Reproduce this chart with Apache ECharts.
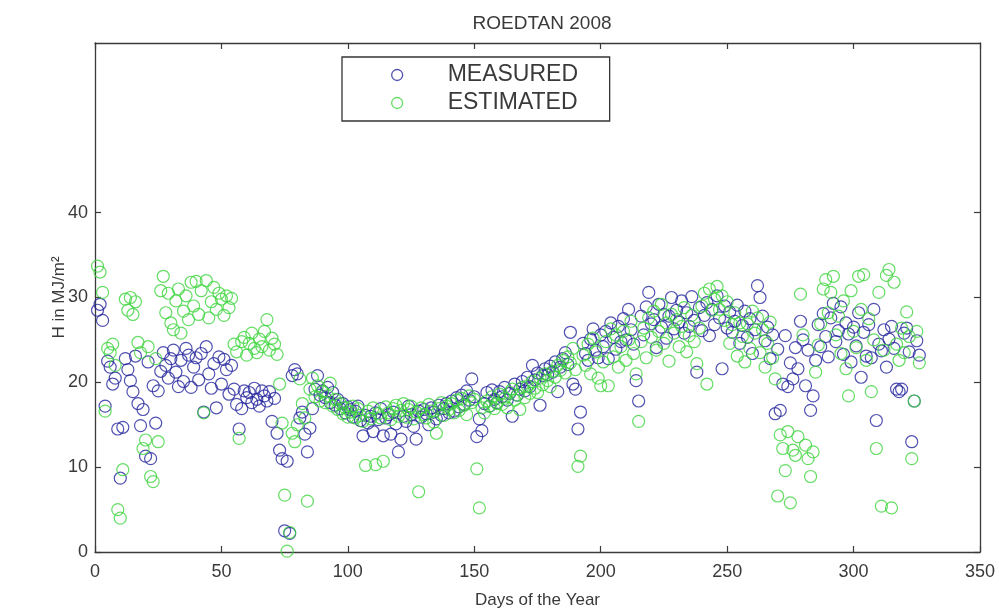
<!DOCTYPE html>
<html>
<head>
<meta charset="utf-8">
<script src="https://cdn.jsdelivr.net/npm/echarts@6/dist/echarts.min.js"></script>
<style>html,body{margin:0;padding:0;background:#fff;}#c{width:999px;height:614px;}</style>
</head>
<body>
<div id="c"></div>
<script>
const titleText = 'ROEDTAN 2008';
const xName = 'Days of the Year';
const yName = 'H in MJ/m²';
const seriesNames = ['MEASURED', 'ESTIMATED'];
const firstDay = 1;
const xTicks = [0, 50, 100, 150, 200, 250, 300, 350];
const yTicks = [0, 10, 20, 30, 40];

const measured = [
28.5, 29.2, 27.3, 17.2, 22.5, 21.8, 19.8, 20.5, 14.5, 8.7,
14.7, 22.8, 21.5, 20.2, 18.9, 23.1, 17.5, 14.9, 16.8, 11.3,
22.4, 11.0, 19.6, 15.2, 19.0, 21.3, 23.5, 22.0, 20.5, 22.8,
23.8, 21.2, 19.5, 22.6, 20.1, 24.0, 23.2, 19.4, 21.8, 22.9,
20.3, 23.4, 16.5, 24.2, 21.0, 19.3, 22.2, 17.0, 23.0, 19.8,
22.7, 21.5, 18.6, 22.0, 19.2, 17.4, 14.5, 16.9, 19.0, 18.2,
18.8, 17.6, 19.3, 18.0, 17.2, 19.0, 18.4, 17.8, 18.9, 15.4,
18.1, 14.0, 12.0, 11.0, 2.5, 10.7, 2.2, 20.8, 21.5, 21.0,
15.8, 16.5, 13.9, 11.8, 14.6, 16.9, 19.2, 20.8, 18.5, 19.0,
18.2, 19.4, 17.6, 18.8, 17.3, 18.0, 16.9, 17.5, 16.4, 17.1,
16.8, 15.9, 16.6, 17.2, 15.5, 13.7, 16.1, 15.2, 16.0, 14.2,
16.4, 15.6, 16.9, 13.7, 15.8, 16.2, 13.9, 16.5, 15.1, 11.8,
13.3, 16.0, 15.4, 17.2, 16.2, 14.8, 13.3, 16.6, 15.9, 16.8,
16.3, 15.0, 17.0, 16.5, 15.7, 17.3, 16.1, 16.9, 17.5, 16.4,
17.8, 16.6, 18.2, 17.1, 18.5, 17.4, 19.0, 17.9, 20.4, 18.3,
13.6, 15.7, 14.3, 17.5, 18.8, 17.2, 19.1, 18.0, 17.6, 18.9,
18.3, 19.4, 17.9, 18.7, 16.0, 19.8, 18.5, 19.2, 20.1, 19.0,
20.6, 19.5, 22.0, 20.3, 21.1, 17.3, 20.8, 21.6, 20.9, 21.9,
21.2, 22.4, 18.9, 21.8, 22.8, 23.5, 22.1, 25.9, 19.8, 19.2,
14.5, 16.5, 24.6, 23.4, 22.6, 25.1, 26.3, 23.8, 22.9, 25.6,
24.2, 26.0, 22.8, 27.0, 25.3, 23.9, 26.6, 24.8, 27.5, 25.0,
28.6, 26.2, 24.5, 20.2, 17.8, 27.8, 25.6, 28.9, 30.6, 26.9,
27.4, 24.1, 29.2, 26.5, 28.0, 25.2, 27.8, 30.0, 26.3, 28.5,
27.1, 29.6, 25.8, 28.2, 26.6, 30.1, 27.3, 21.2, 28.8, 26.1,
27.9, 29.4, 25.5, 28.6, 26.8, 30.2, 27.6, 21.6, 29.0, 26.4,
28.3, 25.9, 27.2, 29.1, 24.6, 26.7, 28.4, 25.3, 27.5, 23.4,
26.2, 31.4, 30.0, 27.8, 24.9, 26.5, 22.8, 25.6, 16.3, 23.9,
16.7, 19.8, 25.5, 19.5, 22.3, 20.4, 24.1, 21.6, 27.2, 25.0,
19.6, 23.8, 16.7, 18.4, 22.6, 26.8, 24.2, 28.1, 25.4, 23.0,
27.6, 29.3, 24.8, 26.1, 28.9, 23.3, 27.0, 25.7, 22.4, 26.5,
24.3, 28.2, 20.6, 25.9, 23.1, 26.8, 22.9, 28.6, 15.5, 24.5,
23.7, 26.2, 21.8, 25.1, 26.6, 24.0, 19.2, 18.9, 19.2, 25.8,
26.4, 23.6, 13.0, 17.8, 24.9, 23.2
];

const estimated = [
33.7, 33.0, 30.6, 16.6, 24.0, 23.5, 24.5, 22.0, 5.0, 4.0,
9.7, 29.8, 28.5, 30.0, 28.0, 29.5, 24.7, 23.5, 12.2, 13.2,
24.2, 8.9, 8.3, 22.8, 13.0, 30.8, 32.5, 28.2, 30.5, 27.0,
26.2, 29.6, 31.0, 25.8, 28.4, 30.2, 27.4, 31.8, 29.0, 31.9,
28.0, 30.8, 16.4, 32.0, 27.6, 29.5, 31.2, 28.6, 30.5, 29.8,
27.9, 30.2, 28.8, 29.9, 24.5, 23.6, 13.4, 24.8, 25.3, 23.2,
24.6, 25.8, 24.0, 23.5, 25.1, 24.2, 26.0, 27.4, 23.8, 25.2,
24.5, 23.3, 19.8, 15.2, 6.7, 0.1, 2.3, 14.0, 13.0, 15.0,
20.4, 17.5, 15.8, 6.0, 19.2, 20.5, 18.3, 19.6, 17.8, 18.9,
17.6, 18.4, 19.9, 17.2, 18.0, 16.8, 17.5, 16.3, 17.0, 15.9,
16.5, 17.2, 15.8, 16.9, 16.1, 15.4, 10.2, 16.6, 15.7, 17.0,
10.3, 16.3, 15.8, 10.7, 17.1, 16.4, 15.6, 16.9, 17.3, 16.0,
16.7, 17.5, 15.9, 16.8, 17.2, 15.7, 16.5, 7.1, 17.0, 16.2,
15.8, 17.4, 16.6, 15.3, 14.0, 16.9, 17.6, 16.1, 17.2, 16.8,
17.5, 16.4, 17.9, 16.7, 18.1, 17.3, 16.2, 18.4, 17.6, 18.0,
9.8, 5.2, 17.0, 16.4, 17.8, 17.2, 18.3, 16.9, 17.5, 18.6,
17.4, 18.1, 17.0, 18.8, 19.2, 17.9, 18.5, 16.8, 19.4, 18.2,
19.6, 18.7, 20.1, 19.3, 18.8, 20.5, 19.7, 21.0, 20.2, 19.5,
21.3, 20.6, 22.0, 21.4, 22.6, 21.1, 23.0, 22.3, 24.0, 21.5,
10.1, 11.3, 23.2, 22.0, 24.5, 21.0, 25.2, 23.6, 20.5, 19.6,
22.4, 24.8, 19.6, 26.3, 23.0, 25.6, 21.8, 24.2, 26.0, 22.6,
25.0, 27.2, 23.4, 21.0, 15.4, 24.8, 26.4, 22.9, 27.6, 25.3,
28.4, 23.8, 26.0, 29.2, 24.6, 27.0, 22.5, 28.0, 25.8, 27.4,
24.2, 26.6, 28.8, 23.6, 25.5, 27.9, 24.8, 22.2, 26.4, 29.0,
30.5, 19.8, 31.0, 28.5, 29.8, 31.3, 28.6, 30.2, 27.3, 29.5,
24.6, 26.8, 28.2, 23.1, 27.0, 25.4, 22.4, 26.9, 24.0, 28.4,
25.8, 27.6, 23.5, 26.2, 21.8, 24.6, 27.1, 22.9, 20.4, 6.6,
13.8, 12.2, 9.6, 14.2, 5.8, 12.0, 11.4, 13.6, 30.4, 25.6,
12.6, 11.0, 8.9, 11.8, 21.2, 24.4, 26.9, 31.0, 32.1, 28.2,
30.6, 32.5, 25.6, 27.8, 23.4, 29.6, 21.6, 18.4, 30.8, 26.0,
24.1, 32.5, 28.6, 32.7, 22.6, 27.5, 18.9, 25.0, 12.2, 30.6,
5.4, 23.8, 32.6, 33.3, 5.2, 31.8, 24.5, 22.6, 26.4, 23.5,
28.3, 25.4, 11.0, 17.8, 26.0, 22.3
];

const blue = '#26269e';
const green = '#3fd43f';
const axisColor = '#3a3a3a';
const textColor = '#3a3a3a';
const font = 'Liberation Sans, Arial, Helvetica, sans-serif';

function toPairs(arr) { return arr.map((v, i) => [firstDay + i, v]); }

const chart = echarts.init(document.getElementById('c'), null, {renderer: 'canvas'});

const commonX = {
  type: 'value', min: 0, max: 350, interval: 50,
  axisLine: {show: true, onZero: false, lineStyle: {color: axisColor, width: 1.3}},
  axisTick: {show: true, inside: true, length: 6, lineStyle: {color: axisColor, width: 1.2}},
  splitLine: {show: false}
};
const commonY = {
  type: 'value', min: 0, max: 60, interval: 10,
  axisLine: {show: true, onZero: false, lineStyle: {color: axisColor, width: 1.3}},
  axisTick: {show: true, inside: true, length: 6, customValues: yTicks, lineStyle: {color: axisColor, width: 1.2}},
  splitLine: {show: false}
};

chart.setOption({
  backgroundColor: '#fff',
  animation: false,
  title: {
    text: titleText, left: 537, textAlign: 'center', top: 9,
    textStyle: {fontFamily: font, fontSize: 19, fontWeight: 'normal', color: textColor}
  },
  legend: {
    orient: 'vertical', left: 342, top: 57,
    padding: [5, 10, 5, 49],
    itemGap: 2, itemWidth: 11, itemHeight: 11,
    borderColor: '#333', borderWidth: 1.3, backgroundColor: '#fff',
    textStyle: {fontFamily: font, fontSize: 23, color: textColor, padding: [0, 0, 0, 40], width: 152, lineHeight: 26},
    data: [
      {name: seriesNames[0], icon: 'circle', itemStyle: {color: 'transparent', borderColor: blue, borderWidth: 1.3}},
      {name: seriesNames[1], icon: 'circle', itemStyle: {color: 'transparent', borderColor: green, borderWidth: 1.3}}
    ]
  },
  grid: {left: 95, right: 19, top: 43, bottom: 60, containLabel: false},
  xAxis: [
    Object.assign({}, commonX, {
      position: 'bottom',
      name: xName, nameLocation: 'middle', nameGap: 40, nameMoveOverlap: false,
      nameTextStyle: {fontFamily: font, fontSize: 17, color: textColor},
      axisLabel: {fontFamily: font, fontSize: 18, color: textColor, margin: 11, customValues: xTicks}
    }),
    Object.assign({}, commonX, {position: 'top', axisLabel: {show: false}})
  ],
  yAxis: [
    Object.assign({}, commonY, {
      position: 'left',
      name: yName, nameLocation: 'middle', nameGap: 27, nameMoveOverlap: false,
      nameTextStyle: {fontFamily: font, fontSize: 17, color: textColor},
      axisLabel: {fontFamily: font, fontSize: 18, color: textColor, margin: 7, customValues: yTicks}
    }),
    Object.assign({}, commonY, {position: 'right', axisLabel: {show: false}})
  ],
  series: [
    {
      name: seriesNames[0], type: 'scatter', xAxisIndex: 0, yAxisIndex: 0,
      symbol: 'circle', symbolSize: 12,
      itemStyle: {color: 'transparent', borderColor: blue, borderWidth: 1.2},
      data: toPairs(measured)
    },
    {
      name: seriesNames[1], type: 'scatter', xAxisIndex: 0, yAxisIndex: 0,
      symbol: 'circle', symbolSize: 12,
      itemStyle: {color: 'transparent', borderColor: green, borderWidth: 1.2},
      data: toPairs(estimated)
    }
  ]
});
</script>
</body>
</html>
